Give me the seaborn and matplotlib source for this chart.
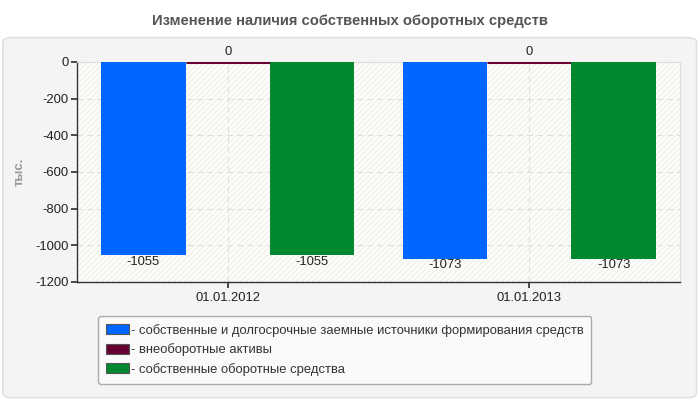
import matplotlib.pyplot as plt
import pandas as pd
import seaborn as sns
from matplotlib.patches import FancyBboxPatch, Rectangle

dates = ["01.01.2012", "01.01.2013"]
series = [
    "- собственные и долгосрочные заемные источники формирования средств",
    "- внеоборотные активы",
    "- собственные оборотные средства",
]
own_and_longterm = [-1055, -1073]
noncurrent_assets = [0, 0]
working_capital = [-1055, -1073]
colors = ["#0066ff", "#660033", "#00882e"]
y_ticks = [0, -200, -400, -600, -800, -1000, -1200]

rows = []
for name, vals in zip(series, [own_and_longterm, noncurrent_assets, working_capital]):
    for d, v in zip(dates, vals):
        rows.append({"date": d, "series": name, "value": v})
df = pd.DataFrame(rows)

sns.set_theme(style="white")
plt.rcParams["font.family"] = ["Liberation Sans", "DejaVu Sans"]

fig = plt.figure(figsize=(7, 4), dpi=100)
fig.patch.set_facecolor("white")

# outer panel
panel = FancyBboxPatch((0.004, 0.006), 0.991, 0.9, boxstyle="round,pad=0,rounding_size=0.012",
                       transform=fig.transFigure, facecolor="#f4f4f4", edgecolor="#dddddd",
                       linewidth=1, zorder=-10)
fig.patches.append(panel)

fig.text(0.5, 0.948, "Изменение наличия собственных оборотных средств", ha="center", va="center",
         fontsize=10.6, fontweight="bold", color="#555555")

ax = fig.add_axes([0.11, 0.295, 0.8614, 0.55])
ax.set_facecolor("#fdfdfa")
ax.add_patch(Rectangle((0, 0), 1, 1, transform=ax.transAxes, facecolor="#fdfdfa",
                       edgecolor="#f1f1ed", hatch="//////", linewidth=0, zorder=0))

sns.barplot(data=df, x="date", y="value", hue="series", palette=colors, width=0.84,
            gap=0, ax=ax, saturation=1, errorbar=None, zorder=3)

for i, cont in enumerate(ax.containers):
    for bar in cont:
        h = bar.get_height()
        if h == 0:
            bar.set_edgecolor(colors[i])
            bar.set_linewidth(2.2)
            ax.text(bar.get_x() + bar.get_width() / 2, 20, "0", ha="center", va="bottom",
                    fontsize=9.4, color="#222222", clip_on=False)
        else:
            bar.set_linewidth(0)
            ax.text(bar.get_x() + bar.get_width() / 2, h - 4, f"{int(h)}", ha="center", va="top",
                    fontsize=9.4, color="#222222", zorder=5)

ax.set_xlim(-0.5, 1.5)
ax.set_ylim(-1200, 0)
ax.set_yticks(y_ticks)
ax.set_yticklabels([str(t) for t in y_ticks], fontsize=9.4, color="#222222")
ax.tick_params(axis="x", labelsize=9.4, labelcolor="#222222", length=4, color="#333333", direction="out")
ax.tick_params(axis="y", length=4, color="#333333", direction="out", pad=2)
ax.tick_params(bottom=True, left=True)
ax.grid(True, axis="both", linestyle=(0, (5, 4)), color="#dddddd", linewidth=0.8, zorder=1)
ax.set_axisbelow(True)

for s in ["top", "right"]:
    ax.spines[s].set_color("#dddddd")
    ax.spines[s].set_linewidth(0.8)
for s in ["left", "bottom"]:
    ax.spines[s].set_color("#333333")
    ax.spines[s].set_linewidth(1)

ax.set_xlabel("")
ax.set_ylabel("тыс.", fontsize=9.4, fontweight="bold", color="#999999")
ax.yaxis.set_label_coords(-0.085, 0.5)

leg = ax.legend(loc="upper left", bbox_to_anchor=(0.14, 0.21), bbox_transform=fig.transFigure,
                borderaxespad=0, frameon=True, fontsize=9.4, handlelength=1.8, handleheight=0.8,
                handletextpad=0.1, labelspacing=0.5, borderpad=0.6, fancybox=True, title=None)
leg.get_frame().set_facecolor("#fafafa")
leg.get_frame().set_edgecolor("#aaaaaa")
leg.get_frame().set_alpha(1)
for t in leg.get_texts():
    t.set_color("#333333")
for h in leg.legend_handles:
    h.set_edgecolor("#555555")
    h.set_linewidth(0.8)

fig.savefig("out.png", dpi=100)
